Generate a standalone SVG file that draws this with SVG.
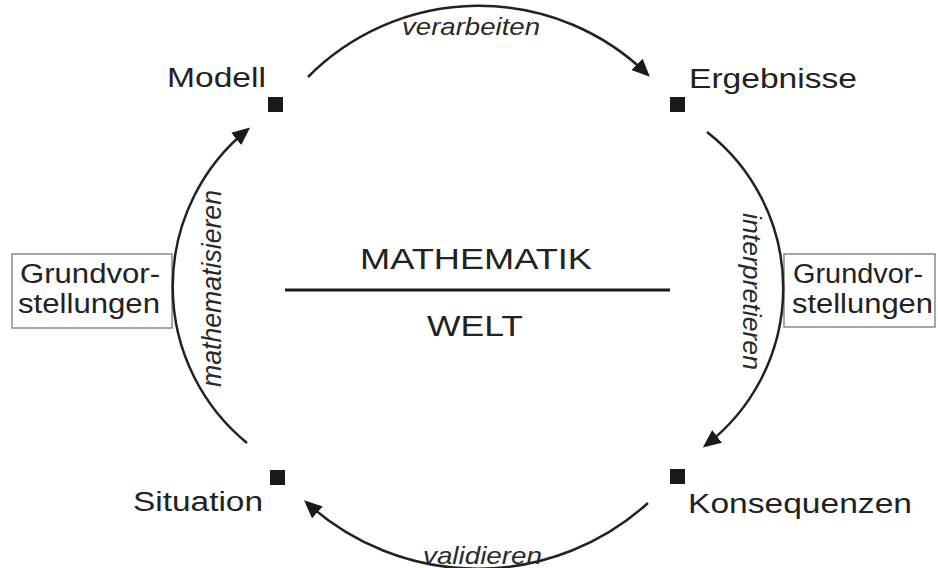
<svg xmlns="http://www.w3.org/2000/svg" width="938" height="568" viewBox="0 0 938 568">
<style>
.lbl{font-family:"Liberation Sans",Arial,sans-serif;fill:#222;font-size:27px}
.big{font-family:"Liberation Sans",Arial,sans-serif;fill:#222;font-size:30px}
.arc{font-family:"Liberation Sans",Arial,sans-serif;fill:#2a2a2a;font-size:24px;font-style:italic}
.conn{fill:none;stroke:#222;stroke-width:2.5}
.sq{fill:#1a1a1a}
.box{fill:#fff;stroke:#8a8a8a;stroke-width:1.5}
</style>
<defs>
<marker id="ah" viewBox="0 0 18 16" refX="14" refY="8" markerWidth="18" markerHeight="16" markerUnits="userSpaceOnUse" orient="auto">
<path d="M0,0 L18,8 L0,16 z" fill="#1a1a1a"/>
</marker>
</defs>
<rect width="938" height="568" fill="#fff"/>

<g id="center">
<text class="big" x="360" y="269" textLength="232" lengthAdjust="spacingAndGlyphs">MATHEMATIK</text>
<line x1="285" y1="290" x2="670" y2="290" stroke="#1a1a1a" stroke-width="3"/>
<text class="big" x="427" y="336" textLength="96" lengthAdjust="spacingAndGlyphs">WELT</text>
</g>

<g id="modell">
<rect class="sq" x="268" y="97" width="15" height="15"/>
<text class="lbl" x="167" y="87" textLength="99" lengthAdjust="spacingAndGlyphs">Modell</text>
</g>
<g id="ergebnisse">
<rect class="sq" x="670" y="97" width="15" height="15"/>
<text class="lbl" x="689" y="88" textLength="168" lengthAdjust="spacingAndGlyphs">Ergebnisse</text>
</g>
<g id="situation">
<rect class="sq" x="270" y="470" width="15" height="15"/>
<text class="lbl" x="133" y="511" textLength="130" lengthAdjust="spacingAndGlyphs">Situation</text>
</g>
<g id="konsequenzen">
<rect class="sq" x="670" y="469" width="15" height="15"/>
<text class="lbl" x="688" y="513" textLength="224" lengthAdjust="spacingAndGlyphs">Konsequenzen</text>
</g>

<g id="grundvorstellungen-left">
<rect class="box" x="12" y="254" width="160" height="74"/>
<text class="lbl" x="20" y="283" textLength="140" lengthAdjust="spacingAndGlyphs">Grundvor-</text>
<text class="lbl" x="18" y="313" textLength="142" lengthAdjust="spacingAndGlyphs">stellungen</text>
</g>
<g id="grundvorstellungen-right">
<rect class="box" x="784" y="254" width="151" height="73"/>
<text class="lbl" x="793" y="283" textLength="130" lengthAdjust="spacingAndGlyphs">Grundvor-</text>
<text class="lbl" x="792" y="313" textLength="141" lengthAdjust="spacingAndGlyphs">stellungen</text>
</g>

<g id="connectors">
<path class="conn" d="M308 77 A241 241 0 0 1 647 74" marker-end="url(#ah)"/>
<path class="conn" d="M707 132 A198 198 0 0 1 706 445" marker-end="url(#ah)"/>
<path class="conn" d="M648 503 A254 254 0 0 1 307 503" marker-end="url(#ah)"/>
<path class="conn" d="M247 443 A202 202 0 0 1 247 130" marker-end="url(#ah)"/>
<text class="arc" x="402" y="35" textLength="138" lengthAdjust="spacingAndGlyphs">verarbeiten</text>
<text class="arc" x="423" y="564" textLength="119" lengthAdjust="spacingAndGlyphs">validieren</text>
<text class="arc" style="font-size:27px" transform="translate(221,387) rotate(-90)" textLength="197" lengthAdjust="spacingAndGlyphs">mathematisieren</text>
<text class="arc" style="font-size:26px" transform="translate(743,213) rotate(90)" textLength="157" lengthAdjust="spacingAndGlyphs">interpretieren</text>
</g>
</svg>
